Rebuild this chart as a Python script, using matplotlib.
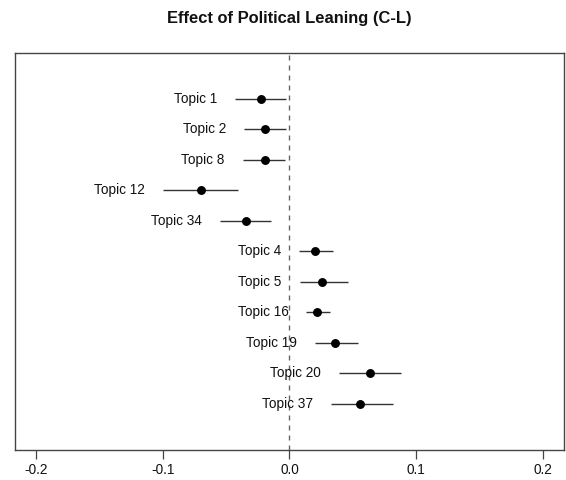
import matplotlib
matplotlib.use("Agg")
import matplotlib.pyplot as plt

topics = ["Topic 1", "Topic 2", "Topic 8", "Topic 12", "Topic 34",
          "Topic 4", "Topic 5", "Topic 16", "Topic 19", "Topic 20", "Topic 37"]
estimates = [-0.0228, -0.0194, -0.0197, -0.0695, -0.0346,
             0.0205, 0.0260, 0.0218, 0.0362, 0.0632, 0.0559]
ci_lower = [-0.0431, -0.0357, -0.0370, -0.0998, -0.0551,
            0.0073, 0.0079, 0.0134, 0.0199, 0.0388, 0.0331]
ci_upper = [-0.0026, -0.0031, -0.0039, -0.0409, -0.0147,
            0.0344, 0.0462, 0.0323, 0.0543, 0.0880, 0.0813]
xticks = [-0.2, -0.1, 0.0, 0.1, 0.2]
xticklabels = ["-0.2", "-0.1", "0.0", "0.1", "0.2"]
title = "Effect of Political Leaning (C-L)"

plt.rcParams['font.family'] = ['Liberation Sans', 'DejaVu Sans']

fig = plt.figure(figsize=(5.66, 4.8), dpi=100)
ax = fig.add_axes([15/566, 1 - 449.6/480, (564 - 15)/566, (449.6 - 53)/480])

ypos = list(range(1, len(topics) + 1))
for y, lo, hi, est, lab in zip(ypos, ci_lower, ci_upper, estimates, topics):
    ax.plot([lo, hi], [y, y], color="#333333", lw=1.0, solid_capstyle="butt", zorder=2)
    ax.plot([est], [y], "o", color="black", ms=5.4, zorder=3)
    ax.annotate(lab, xy=(lo, y), xytext=(-18, 0), textcoords="offset pixels",
                ha="right", va="center", fontsize=9.8, color="#111111")

ax.axvline(0, color="#666666", lw=1.0, dashes=(3.6, 3.6), zorder=1)

ax.set_xlim(-0.2165, 0.2165)
ax.set_ylim(12.5, -0.5)
ax.set_xticks(xticks)
ax.set_xticklabels(xticklabels, fontsize=9.8)
ax.set_yticks([])
ax.tick_params(axis="x", length=6.3, width=0.9, color="#444444", pad=3.5, labelcolor="#111111")
for s in ax.spines.values():
    s.set_color("#444444")
    s.set_linewidth(1.0)

fig.text(289.5/566, 1 - 19/480, title, ha="center", va="center",
         fontsize=11.9, fontweight="bold", color="#111111")

fig.savefig("out.png", dpi=100)
